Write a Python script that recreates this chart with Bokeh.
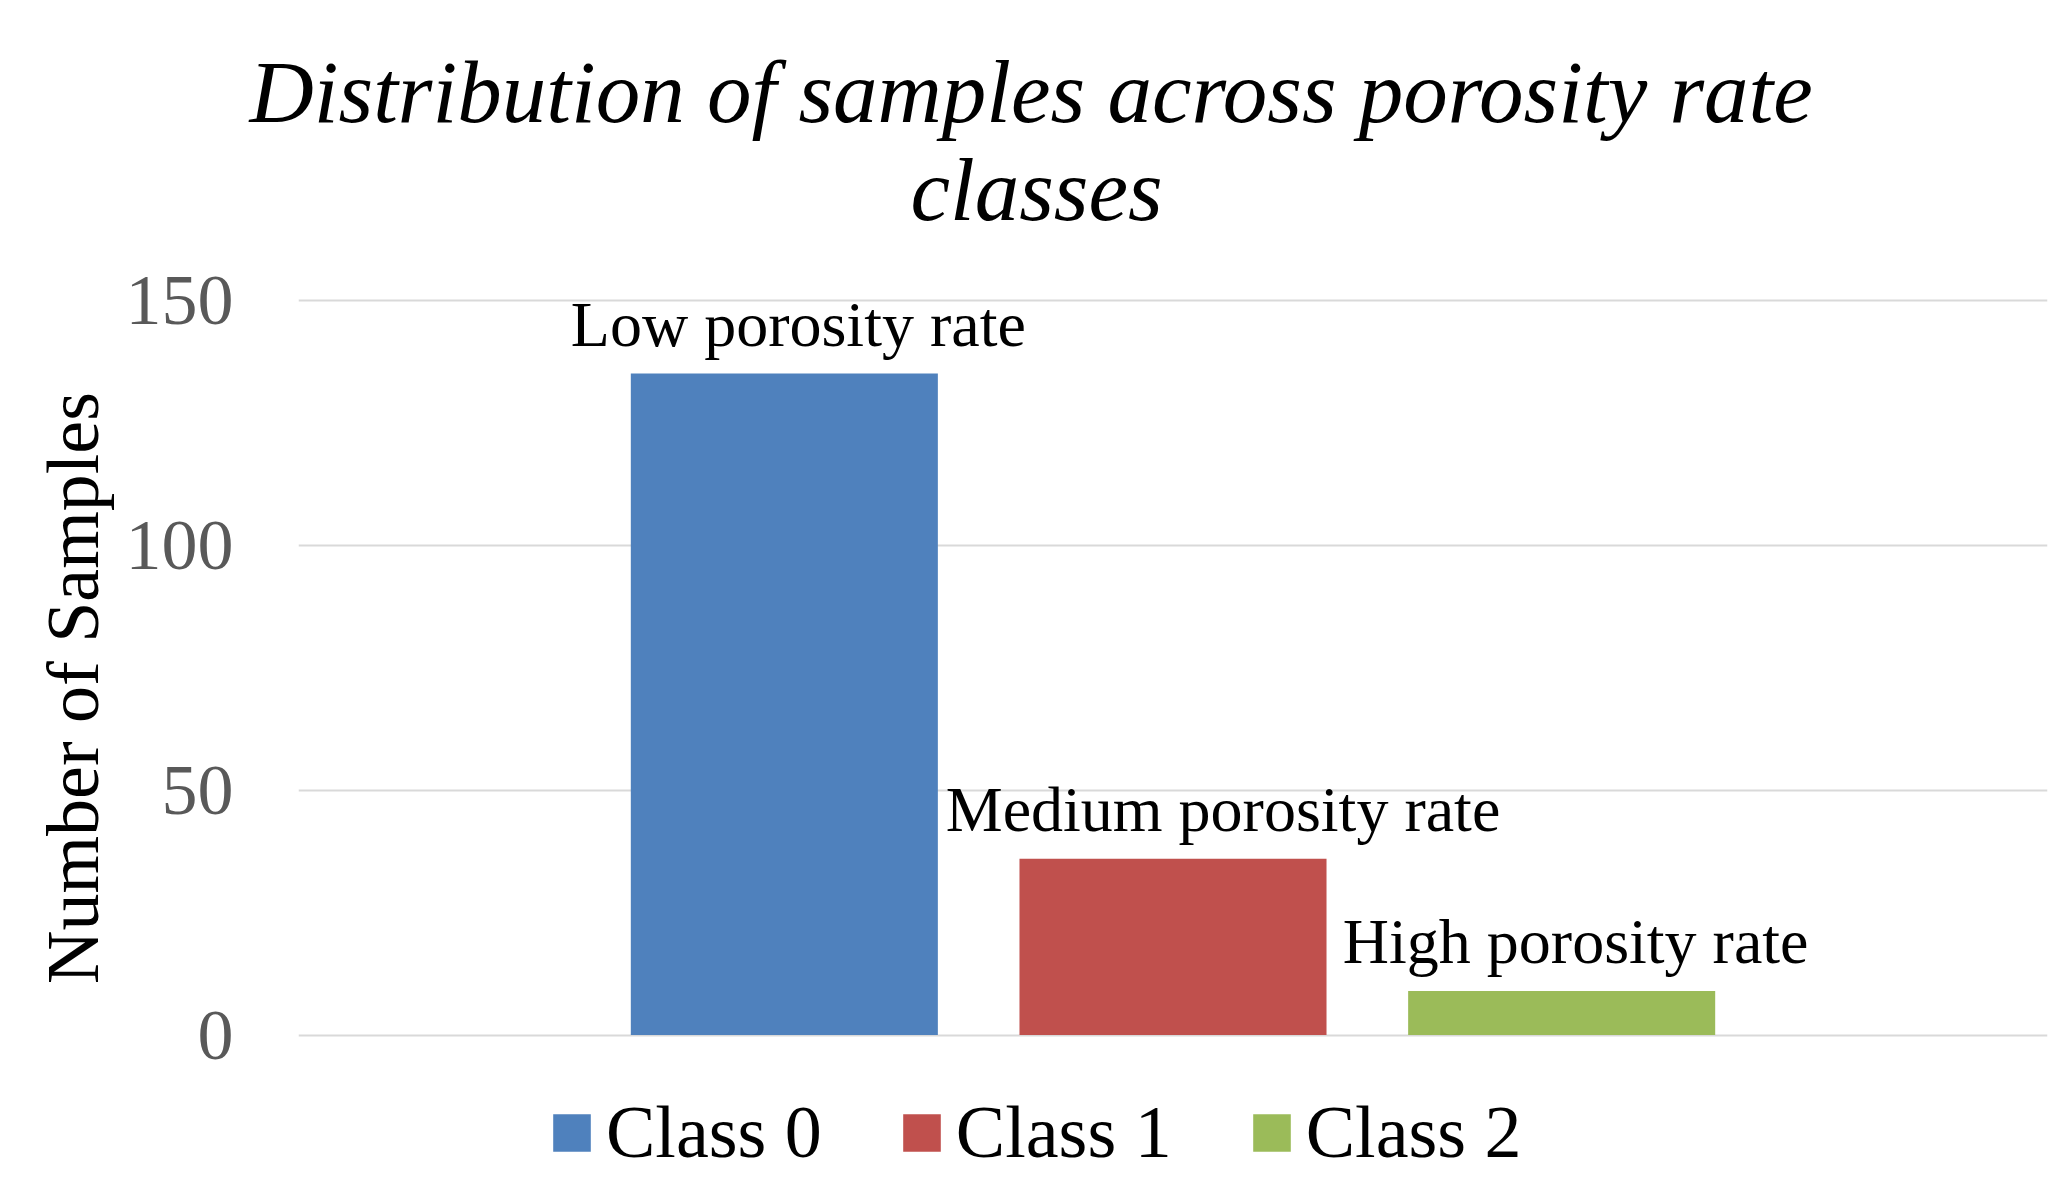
from bokeh.plotting import figure
from bokeh.models import (ColumnDataSource, Range1d, FixedTicker, LabelSet, Title)
from bokeh.embed import file_html
from bokeh.resources import INLINE

# ---- data ----
classes = ["Class 0", "Class 1", "Class 2"]
counts = [135, 36, 9]
bar_labels = ["Low porosity rate", "Medium porosity rate", "High porosity rate"]
colors = ["#4F81BD", "#C0504D", "#9BBB59"]
y_ticks = [0, 50, 100, 150]
title_lines = ["Distribution of samples across porosity rate", "classes"]
y_label = "Number of Samples"

# ---- layout / style ----
label_dx = [14, 50, 14]
FONT = "Liberation Serif"
W, H = 2051, 1175
FRAME_LEFT = 298
FRAME_TOP = 200
PX_PER_UNIT = 735.1 / 150.0
Y_END = 150 + (299.5 - FRAME_TOP) / PX_PER_UNIT
Y_START = -(H - 1034.6) / PX_PER_UNIT

src = ColumnDataSource(dict(
    x=list(range(len(classes))),
    cls=classes,
    top=counts,
    color=colors,
    lab=bar_labels,
    dx=label_dx,
))

p = figure(width=W, height=H, output_backend="svg", toolbar_location=None,
           x_range=Range1d(-1.25, 3.25), y_range=Range1d(Y_START, Y_END),
           min_border_left=FRAME_LEFT, min_border_right=4,
           min_border_top=FRAME_TOP, min_border_bottom=0)
p.outline_line_color = None
p.background_fill_color = "white"
p.border_fill_color = "white"

p.vbar(x="x", top="top", width=0.79, bottom=0, color="color", source=src,
       legend_field="cls", line_color=None)

labels = LabelSet(x="x", y="top", text="lab", source=src, x_offset="dx", y_offset=28,
                  text_align="center", text_baseline="alphabetic",
                  text_font=FONT, text_font_size="64px", text_color="black")
p.add_layout(labels)

# titles (first added sits closest to the frame)
p.add_layout(Title(text=title_lines[1], align="left", offset=612, standoff=-77,
                   text_font=FONT, text_font_size="89px", text_font_style="italic",
                   text_color="black"), "above")
p.add_layout(Title(text=title_lines[0], align="left", offset=-49, standoff=74,
                   text_font=FONT, text_font_size="89px", text_font_style="italic",
                   text_color="black"), "above")

# axes
p.xaxis.visible = False
yax = p.yaxis[0]
yax.ticker = FixedTicker(ticks=y_ticks)
yax.axis_line_color = None
yax.major_tick_line_color = None
yax.minor_tick_line_color = None
yax.major_tick_out = 0
yax.major_tick_in = 0
yax.major_label_standoff = 65
yax.major_label_text_font = FONT
yax.major_label_text_font_size = "72px"
yax.major_label_text_color = "#595959"
yax.axis_label = y_label
yax.axis_label_text_font = FONT
yax.axis_label_text_font_size = "74px"
yax.axis_label_text_font_style = "normal"
yax.axis_label_text_color = "black"
yax.axis_label_standoff = 9

p.xgrid.visible = False
p.ygrid.ticker = FixedTicker(ticks=y_ticks)
p.ygrid.grid_line_color = "#D9D9D9"
p.ygrid.grid_line_width = 2

lg = p.legend[0]
lg.orientation = "horizontal"
lg.location = (250, 0)
lg.label_text_font = FONT
lg.label_text_font_size = "74px"
lg.label_text_color = "black"
lg.glyph_width = 47
lg.glyph_height = 47
lg.label_standoff = 11
lg.spacing = 76
lg.padding = 0
lg.margin = 0
lg.border_line_color = None
lg.background_fill_alpha = 0

open("out.html", "w").write(file_html(p, INLINE))
